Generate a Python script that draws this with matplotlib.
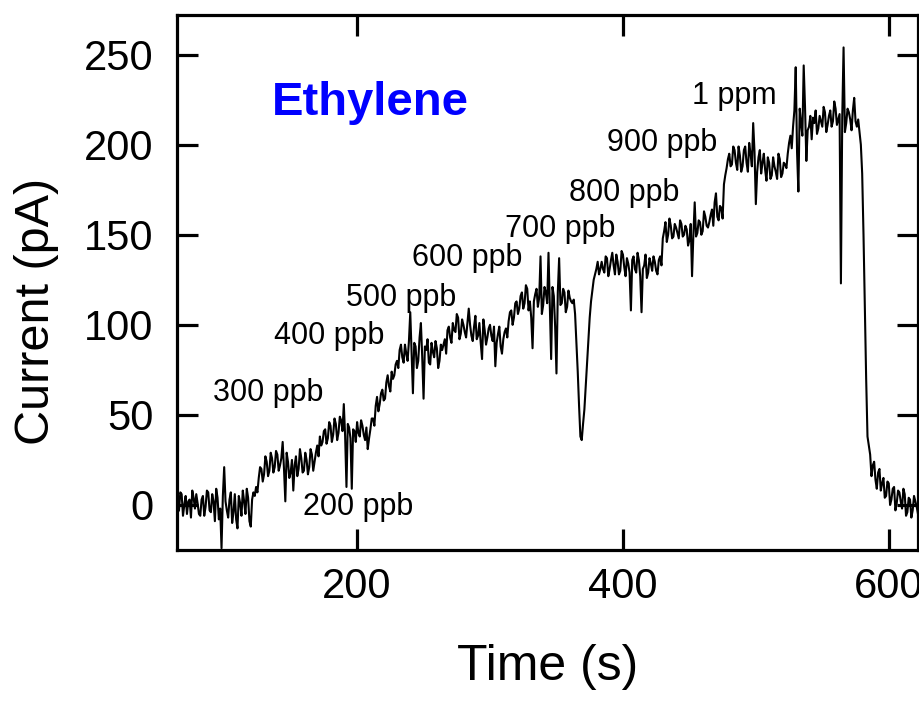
import numpy as np
import matplotlib
matplotlib.use('Agg')
import matplotlib.pyplot as plt

plt.rcParams['font.family'] = ['Liberation Sans', 'DejaVu Sans']

# sensor current at even seconds, 64 s .. 624 s
t_start = 64
current_even = [
    4, -3, 6, 0, -5, 3, 8, -2, 1, -6,
    5, -1, 7, -4, 2, 9, -8, -24, 21, -3,
    3, -10, 6, -13, 1, 8, -5, 4, -12, 7,
    10, 15, 20, 17, 24, 19, 26, 21, 28, 22,
    35, 2, 24, 18, 8, 27, 20, 26, 19, 25,
    21, 28, 24, 33, 38, 35, 42, 37, 44, 39,
    45, 40, 47, 56, 10, 43, 9, 41, 46, 38,
    44, 36, 31, 42, 48, 55, 52, 62, 58, 68,
    66, 74, 72, 80, 86, 82, 89, 80, 107, 62,
    88, 80, 101, 59, 86, 79, 90, 82, 87, 80,
    86, 92, 97, 93, 101, 96, 104, 95, 100, 93,
    109, 94, 99, 92, 101, 81, 97, 93, 100, 91,
    77, 95, 88, 92, 98, 102, 108, 104, 113, 109,
    118, 112, 120, 113, 87, 117, 110, 138, 111, 118,
    140, 81, 116, 73, 137, 112, 118, 110, 115, 112,
    106, 74, 38, 45, 66, 92, 113, 125, 131, 128,
    135, 129, 137, 131, 140, 128, 135, 130, 139, 127,
    134, 108, 138, 129, 136, 107, 133, 126, 137, 130,
    135, 128, 138, 148, 157, 150, 155, 149, 154, 148,
    156, 150, 153, 147, 127, 168, 151, 157, 152, 160,
    154, 161, 155, 173, 158, 165, 178, 187, 195, 189,
    197, 186, 194, 188, 199, 185, 195, 212, 167, 193,
    184, 195, 180, 190, 183, 188, 181, 192, 184, 189,
    195, 205, 210, 243, 174, 212, 244, 191, 210, 203,
    212, 206, 216, 210, 218, 211, 219, 213, 220, 214,
    123, 254, 212, 218, 208, 226, 210, 207, 184, 110,
    38, 28, 22, 14, 18, 8, 15, 5, 12, 3,
    10, 1, 7, -2, 6, -4, 3, -3, 2, -5, -2,
]
# and at odd seconds, 65 s .. 623 s
current_odd = [
    -4, 7, -6, 5, 2, -7, 4, 6, -5, 3,
    -6, 8, -3, 6, -9, 4, -2, 5, 2, -7,
    7, -4, -8, 5, -6, 2, 9, -9, 3, 5,
    7, 21, 13, 27, 16, 29, 18, 30, 19, 26,
    20, 29, 15, 25, 22, 16, 31, 18, 29, 17,
    31, 19, 29, 27, 33, 41, 34, 46, 35, 48,
    36, 49, 41, 38, 45, 37, 42, 35, 40, 47,
    39, 43, 37, 48, 44, 60, 56, 64, 59, 72,
    63, 70, 78, 76, 89, 79, 84, 91, 85, 90,
    76, 93, 82, 88, 92, 78, 85, 91, 76, 89,
    89, 84, 99, 90, 97, 106, 92, 103, 96, 101,
    100, 91, 105, 94, 90, 103, 89, 98, 94, 99,
    90, 99, 84, 96, 93, 107, 100, 112, 106, 116,
    109, 122, 108, 104, 113, 120, 115, 106, 121, 112,
    110, 121, 99, 118, 111, 120, 107, 119, 113, 114,
    90, 55, 36, 53, 79, 104, 119, 128, 135, 131,
    131, 138, 127, 136, 133, 139, 128, 141, 132, 137,
    129, 136, 131, 140, 127, 131, 139, 129, 134, 138,
    130, 136, 133, 152, 146, 159, 148, 156, 151, 158,
    149, 155, 144, 156, 150, 149, 158, 150, 163, 155,
    157, 164, 168, 160, 166, 159, 183, 192, 188, 199,
    190, 199, 185, 197, 190, 201, 188, 196, 185, 197,
    190, 186, 193, 181, 193, 185, 195, 182, 190, 187,
    201, 198, 219, 196, 220, 205, 221, 208, 216, 215,
    219, 209, 213, 221, 207, 216, 210, 224, 211, 217,
    215, 207, 220, 214, 219, 213, 214, 200, 150, 70,
    33, 16, 24, 9, 20, 12, 4, 13, 0, 9,
    -3, 8, 2, 9, -6, 4, -7, 5, -1, 4,
]
current = np.empty(len(current_even) + len(current_odd))
current[0::2] = current_even
current[1::2] = current_odd
time = t_start + np.arange(len(current))

# concentration labels: text, left x (s), centre y (pA)
conc_labels = ['200 ppb', '300 ppb', '400 ppb', '500 ppb', '600 ppb',
               '700 ppb', '800 ppb', '900 ppb', '1 ppm']
conc_x = [159.0, 91.5, 137.5, 191.5, 241.5, 311.0, 359.5, 388.0, 452.0]
conc_y = [-1, 62, 94, 115, 137, 153, 173, 201, 227]

fig = plt.figure(figsize=(9.2, 7.01), dpi=100)
ax = fig.add_axes([177 / 920, 1 - 550 / 701, 741 / 920, 535 / 701])

ax.plot(time, current, color='black', lw=1.5)

ax.set_xlim(64.5, 622)
ax.set_ylim(-25, 272)
ax.set_xticks([200, 400, 600])
ax.set_yticks([0, 50, 100, 150, 200, 250])

for s in ax.spines.values():
    s.set_linewidth(2.3)
ax.tick_params(direction='in', length=15, width=2.3, labelsize=30,
               top=True, right=True)
ax.tick_params(axis='y', pad=17)
ax.tick_params(axis='x', pad=12)

ax.set_xlabel('Time (s)', fontsize=36)
ax.set_ylabel('Current (pA)', fontsize=35)
ax.xaxis.label.set_va('center')
ax.yaxis.label.set_va('center')
ax.xaxis.set_label_coords(0.5, -0.219)
ax.yaxis.set_label_coords(-0.190, 0.445)

ax.text(136, 223, 'Ethylene', color='#0000ff', fontsize=34,
        fontweight='bold', ha='left', va='center')
for lab, x, y in zip(conc_labels, conc_x, conc_y):
    ax.text(x, y, lab, fontsize=22, ha='left', va='center')

fig.savefig('out.png', dpi=100)
